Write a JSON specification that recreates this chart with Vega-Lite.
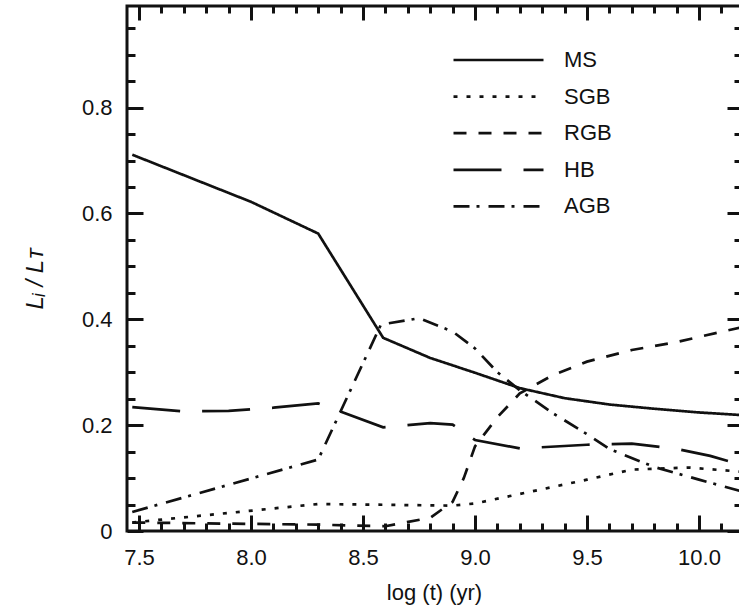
{
  "$schema": "https://vega.github.io/schema/vega-lite/v6.json",
  "width": 614,
  "height": 525,
  "autosize": {"type": "none"},
  "padding": {"left": 127, "top": 6, "right": 0, "bottom": 82},
  "config": {
    "view": {"stroke": "#111", "strokeWidth": 3},
    "font": "Liberation Sans"
  },
  "data": {
    "values": [
      {"stage": "MS", "logt": 7.47, "f": 0.711},
      {"stage": "MS", "logt": 8.0, "f": 0.622},
      {"stage": "MS", "logt": 8.3, "f": 0.562},
      {"stage": "MS", "logt": 8.59, "f": 0.365},
      {"stage": "MS", "logt": 8.8, "f": 0.327},
      {"stage": "MS", "logt": 9.0, "f": 0.299},
      {"stage": "MS", "logt": 9.2, "f": 0.27},
      {"stage": "MS", "logt": 9.4, "f": 0.251},
      {"stage": "MS", "logt": 9.6, "f": 0.239},
      {"stage": "MS", "logt": 9.8, "f": 0.231},
      {"stage": "MS", "logt": 10.0, "f": 0.224},
      {"stage": "MS", "logt": 10.19, "f": 0.219},

      {"stage": "SGB", "logt": 7.47, "f": 0.016},
      {"stage": "SGB", "logt": 8.3, "f": 0.051},
      {"stage": "SGB", "logt": 8.9, "f": 0.048},
      {"stage": "SGB", "logt": 9.0, "f": 0.052},
      {"stage": "SGB", "logt": 9.2, "f": 0.07},
      {"stage": "SGB", "logt": 9.5, "f": 0.097},
      {"stage": "SGB", "logt": 9.7, "f": 0.116},
      {"stage": "SGB", "logt": 9.95, "f": 0.12},
      {"stage": "SGB", "logt": 10.19, "f": 0.112},

      {"stage": "RGB", "logt": 7.47, "f": 0.016},
      {"stage": "RGB", "logt": 8.3, "f": 0.012},
      {"stage": "RGB", "logt": 8.6, "f": 0.009},
      {"stage": "RGB", "logt": 8.8, "f": 0.025},
      {"stage": "RGB", "logt": 8.9, "f": 0.055},
      {"stage": "RGB", "logt": 8.95, "f": 0.1},
      {"stage": "RGB", "logt": 9.0, "f": 0.16},
      {"stage": "RGB", "logt": 9.1, "f": 0.215},
      {"stage": "RGB", "logt": 9.2, "f": 0.26},
      {"stage": "RGB", "logt": 9.35, "f": 0.295},
      {"stage": "RGB", "logt": 9.5, "f": 0.32},
      {"stage": "RGB", "logt": 9.7, "f": 0.342},
      {"stage": "RGB", "logt": 9.9, "f": 0.357},
      {"stage": "RGB", "logt": 10.19, "f": 0.385},

      {"stage": "HB", "logt": 7.47, "f": 0.234},
      {"stage": "HB", "logt": 7.7, "f": 0.226},
      {"stage": "HB", "logt": 7.9, "f": 0.227},
      {"stage": "HB", "logt": 8.1, "f": 0.233},
      {"stage": "HB", "logt": 8.3, "f": 0.241},
      {"stage": "HB", "logt": 8.59, "f": 0.196},
      {"stage": "HB", "logt": 8.8, "f": 0.204},
      {"stage": "HB", "logt": 8.9, "f": 0.201},
      {"stage": "HB", "logt": 9.0, "f": 0.172},
      {"stage": "HB", "logt": 9.2, "f": 0.156},
      {"stage": "HB", "logt": 9.5, "f": 0.163},
      {"stage": "HB", "logt": 9.7, "f": 0.165},
      {"stage": "HB", "logt": 9.9, "f": 0.155},
      {"stage": "HB", "logt": 10.05, "f": 0.142},
      {"stage": "HB", "logt": 10.19, "f": 0.125},

      {"stage": "AGB", "logt": 7.47, "f": 0.036},
      {"stage": "AGB", "logt": 8.3, "f": 0.135},
      {"stage": "AGB", "logt": 8.58, "f": 0.39},
      {"stage": "AGB", "logt": 8.75, "f": 0.402},
      {"stage": "AGB", "logt": 8.9, "f": 0.377},
      {"stage": "AGB", "logt": 9.0, "f": 0.345},
      {"stage": "AGB", "logt": 9.1, "f": 0.3},
      {"stage": "AGB", "logt": 9.2, "f": 0.266},
      {"stage": "AGB", "logt": 9.35, "f": 0.222},
      {"stage": "AGB", "logt": 9.5, "f": 0.183},
      {"stage": "AGB", "logt": 9.6, "f": 0.155},
      {"stage": "AGB", "logt": 9.8, "f": 0.121},
      {"stage": "AGB", "logt": 10.0, "f": 0.097},
      {"stage": "AGB", "logt": 10.19, "f": 0.075}
    ]
  },
  "layer": [
    {
      "mark": {"type": "line", "strokeWidth": 2.7, "color": "#111", "clip": true},
      "encoding": {
        "x": {
          "field": "logt", "type": "quantitative",
          "scale": {"domain": [7.4464, 10.1875], "nice": false, "zero": false},
          "axis": {
            "orient": "bottom",
            "values": [7.5,7.6,7.7,7.8,7.9,8.0,8.1,8.2,8.3,8.4,8.5,8.6,8.7,8.8,8.9,9.0,9.1,9.2,9.3,9.4,9.5,9.6,9.7,9.8,9.9,10.0,10.1],
            "domain": false, "grid": false,
            "tickSize": {"condition": {"test": "abs(datum.value*2-round(datum.value*2))<0.01", "value": -16}, "value": -8},
            "tickWidth": 3, "tickColor": "#111",
            "labelExpr": "abs(datum.value*2-round(datum.value*2))<0.01 ? format(datum.value,'.1f') : ''",
            "labelFont": "Liberation Sans", "labelFontSize": 22, "labelColor": "#111",
            "labelPadding": 32, "labelFlush": false, "labelOverlap": false,
            "title": "log (t) (yr)", "titleFont": "Liberation Sans", "titleFontSize": 22,
            "titleFontWeight": "normal", "titleColor": "#111", "titlePadding": 6
          }
        },
        "y": {
          "field": "f", "type": "quantitative",
          "scale": {"domain": [0, 0.992], "nice": false, "zero": false},
          "axis": {
            "orient": "left",
            "values": [0,0.05,0.1,0.15,0.2,0.25,0.3,0.35,0.4,0.45,0.5,0.55,0.6,0.65,0.7,0.75,0.8,0.85,0.9,0.95],
            "domain": false, "grid": false,
            "tickSize": {"condition": {"test": "abs(datum.value*5-round(datum.value*5))<0.01", "value": -16}, "value": -8},
            "tickWidth": 3, "tickColor": "#111",
            "labelExpr": "abs(datum.value*5-round(datum.value*5))<0.01 ? (datum.value==0 ? '0' : format(datum.value,'.1f')) : ''",
            "labelFont": "Liberation Sans", "labelFontSize": 22, "labelColor": "#111",
            "labelPadding": 31, "labelFlush": false, "labelOverlap": false,
            "title": "Lᵢ / Lᴛ", "titleFont": "Liberation Sans", "titleFontSize": 24,
            "titleFontStyle": "italic", "titleFontWeight": "normal", "titleColor": "#111",
            "titleAngle": 270, "titleAlign": "center", "titleBaseline": "bottom",
            "titleX": -80, "titleY": 272
          }
        },
        "strokeDash": {
          "field": "stage", "type": "nominal",
          "scale": {
            "domain": ["MS", "SGB", "RGB", "HB", "AGB"],
            "range": [[1, 0], [4, 9], [13, 12], [48, 22], [16, 7, 3, 9]]
          },
          "legend": {
            "orient": "none", "legendX": 325, "legendY": 37, "title": null,
            "symbolType": "stroke", "symbolSize": 8100, "symbolStrokeWidth": 2.7,
            "symbolStrokeColor": "#111",
            "labelFont": "Liberation Sans", "labelFontSize": 22, "labelColor": "#111",
            "labelOffset": 19, "clipHeight": 34, "rowPadding": 2.6, "padding": 0
          }
        }
      }
    },
    {
      "mark": {"type": "point", "opacity": 0},
      "encoding": {
        "x": {
          "field": "logt", "type": "quantitative",
          "axis": {
            "orient": "top",
            "values": [7.5,7.6,7.7,7.8,7.9,8.0,8.1,8.2,8.3,8.4,8.5,8.6,8.7,8.8,8.9,9.0,9.1,9.2,9.3,9.4,9.5,9.6,9.7,9.8,9.9,10.0,10.1],
            "domain": false, "grid": false, "labels": false, "title": null,
            "tickSize": {"condition": {"test": "abs(datum.value*2-round(datum.value*2))<0.01", "value": -14}, "value": -7},
            "tickWidth": 3, "tickColor": "#111"
          }
        },
        "y": {
          "field": "f", "type": "quantitative",
          "axis": {
            "orient": "right",
            "values": [0,0.05,0.1,0.15,0.2,0.25,0.3,0.35,0.4,0.45,0.5,0.55,0.6,0.65,0.7,0.75,0.8,0.85,0.9,0.95],
            "domain": false, "grid": false, "labels": false, "title": null,
            "tickSize": {"condition": {"test": "abs(datum.value*5-round(datum.value*5))<0.01", "value": -14}, "value": -7},
            "tickWidth": 3, "tickColor": "#111"
          }
        }
      }
    }
  ],
  "resolve": {"axis": {"x": "independent", "y": "independent"}}
}
